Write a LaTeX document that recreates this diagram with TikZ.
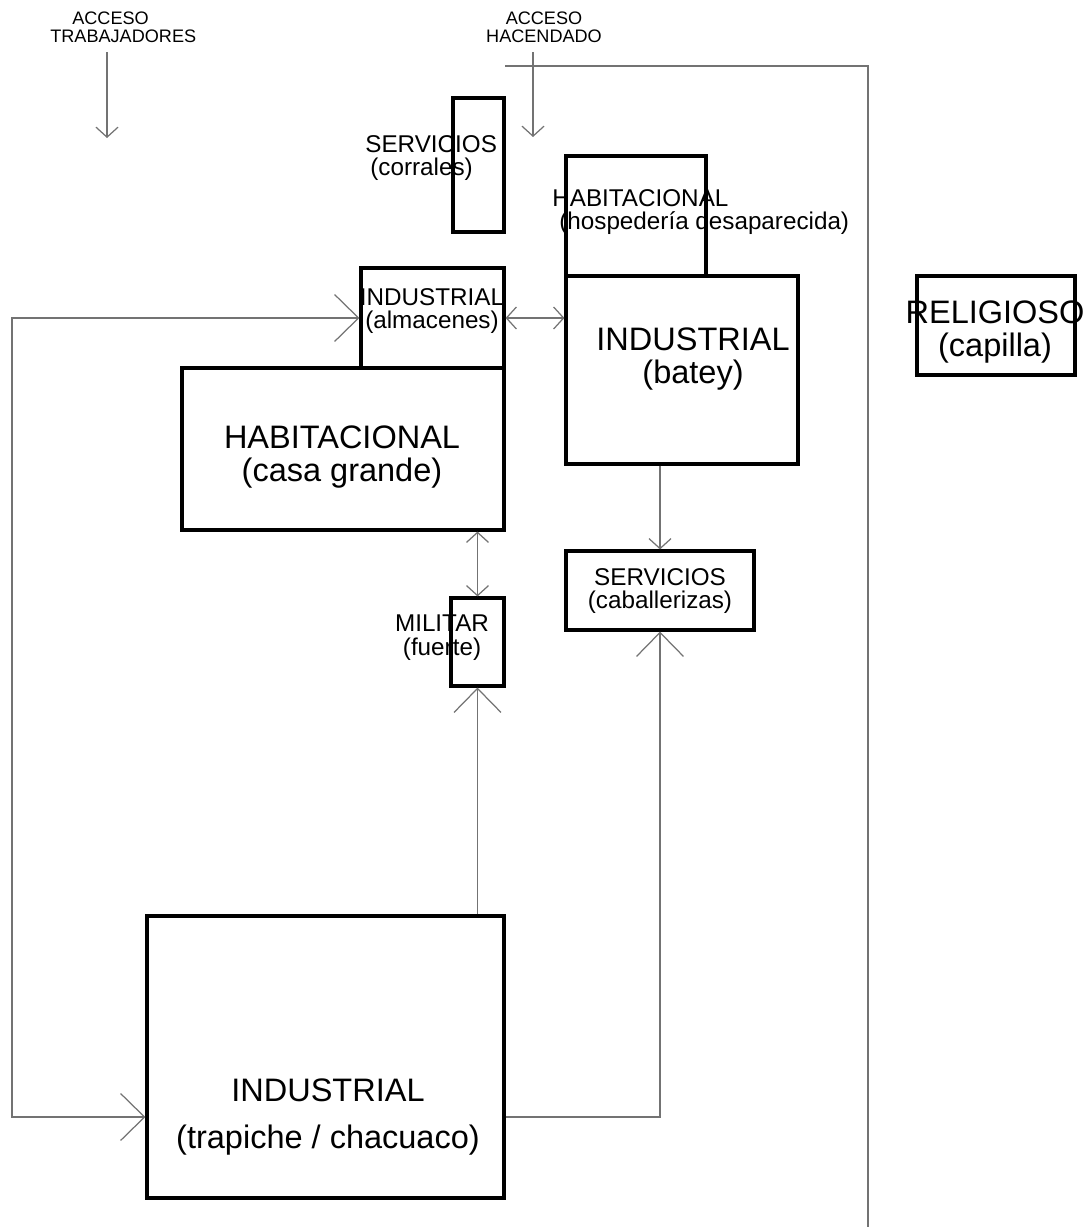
\documentclass[tikz,border=0pt]{standalone}
\usepackage{fontspec}
\setmainfont{Liberation Sans}
\usetikzlibrary{arrows.meta}

\tikzset{
  box/.style={draw, line width=1.8pt, inner sep=0pt},
  conn/.style={draw=black!55, line width=0.7pt},
  bigtxt/.style={font=\fontsize{18.5}{18.5}\selectfont, align=center, inner sep=0pt},
  smalltxt/.style={font=\fontsize{13.8}{13.6}\selectfont, align=center, inner sep=0pt},
  acctxt/.style={font=\fontsize{10.3}{10.5}\selectfont, align=center, inner sep=0pt},
  bigtip/.tip={Straight Barb[length=0.48cm, width=0.94cm]},
  smalltip/.tip={Straight Barb[length=0.2cm, width=0.44cm]}
}

\begin{document}
\begin{tikzpicture}[x=0.02cm, y=-0.02cm]
  \useasboundingbox (0,0) rectangle (1088,1227);

  % zonas
  \node[box, minimum width=1.02cm, minimum height=2.68cm] (corr) at (478.5,165) {};
  \node[box, minimum width=2.8cm, minimum height=2.4cm] (hosp) at (636,216) {};
  \node[box, minimum width=2.86cm, minimum height=2cm] (alm) at (432.5,318) {};
  \node[box, minimum width=4.64cm, minimum height=3.76cm] (batey) at (682,370) {};
  \node[box, minimum width=6.44cm, minimum height=3.24cm] (casa) at (343,449) {};
  \node[box, minimum width=3.16cm, minimum height=1.98cm] (capilla) at (996,325.5) {};
  \node[box, minimum width=3.76cm, minimum height=1.58cm] (cab) at (660,590.5) {};
  \node[box, minimum width=1.06cm, minimum height=1.76cm] (fuerte) at (477.5,642) {};
  \node[box, minimum width=7.14cm, minimum height=5.64cm] (trap) at (325.5,1057) {};

  % textos
  \node[smalltxt, align=left, anchor=west] (corrT) at (365,158) {SERVICIOS\\\hspace*{0.1cm}(corrales)};
  \node[smalltxt, align=left, anchor=west] (hospT) at (552,212) {HABITACIONAL\\\hspace*{0.14cm}(hospedería desaparecida)};
  \node[smalltxt] (almT) at (432,311) {INDUSTRIAL\\(almacenes)};
  \node[bigtxt] (bateyT) at (693,359) {INDUSTRIAL\\(batey)};
  \node[bigtxt] (casaT) at (342,457) {HABITACIONAL\\(casa grande)};
  \node[bigtxt] (capT) at (995,332) {RELIGIOSO\\(capilla)};
  \node[smalltxt] (cabT) at (660,591) {SERVICIOS\\(caballerizas)};
  \node[smalltxt] (fuerT) at (442,638) {MILITAR\\(fuerte)};
  \node[bigtxt] (trapT) at (328,1117) {INDUSTRIAL\\[8pt](trapiche / chacuaco)};
  \node[acctxt, align=left, anchor=west] (trabT) at (50,27) {\hspace*{0.44cm}ACCESO\\TRABAJADORES};
  \node[acctxt] (hacT) at (544,27) {ACCESO\\HACENDADO};

  % circulaciones
  \coordinate (loopW) at (12,0);
  \draw[conn, {bigtip}-{bigtip}] (alm.west) -- (alm.west -| loopW) |- (trap.west |- trapT);
  \draw[conn, {smalltip}-{smalltip}] (alm.east) -- (alm.east -| batey.west);
  \draw[conn, -{smalltip}] (cab.north |- batey.south) -- (cab.north);
  \draw[conn, -{bigtip}] (fuerte.south |- trap.north) -- (fuerte.south);
  \draw[conn, {smalltip}-{smalltip}] (fuerte.north) -- (fuerte.north |- casa.south);
  \draw[conn, -{bigtip}] (trap.east |- trapT) -| (cab.south);

  % accesos
  \coordinate (trabIn) at (107,52);
  \coordinate (trabOut) at (107,138);
  \draw[conn, -{smalltip}] (trabIn) -- (trabOut);
  \coordinate (hacIn) at (533,52);
  \coordinate (hacOut) at (533,137);
  \draw[conn, -{smalltip}] (hacIn) -- (hacOut);

  % lindero
  \draw[conn] (505,66) -- (868,66) -- (868,1227);
\end{tikzpicture}
\end{document}
